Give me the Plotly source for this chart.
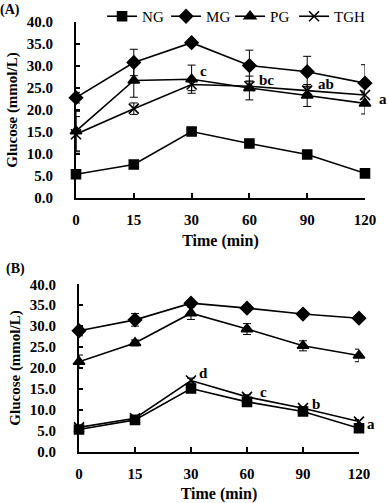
import plotly.graph_objects as go

# ---------------- data ----------------
time_labels = ["0", "15", "30", "60", "90", "120"]
groups = ["NG", "MG", "PG", "TGH"]

# Panel A
a_NG = [5.4, 7.6, 15.1, 12.4, 9.9, 5.6]
a_MG = [22.8, 30.8, 35.3, 30.1, 28.7, 26.1]
a_PG = [15.2, 26.7, 27.0, 25.0, 23.3, 21.5]
a_TGH = [14.5, 20.3, 25.8, 25.4, 24.4, 23.4]
a_NG_err = [0.4, 0.4, 0.5, 0.5, 0.4, 0.4]
a_MG_err = [1.2, 3.0, 0.7, 3.5, 3.5, 4.2]
a_PG_err = [4.5, 3.8, 3.2, 2.7, 2.5, 2.4]
a_TGH_err = [4.0, 1.3, 1.4, 1.0, 1.0, 0.9]

# Panel B
b_NG = [5.3, 7.6, 15.1, 11.9, 9.6, 5.6]
b_MG = [28.9, 31.5, 35.5, 34.3, 32.9, 31.9]
b_PG = [21.5, 26.0, 33.1, 29.3, 25.3, 23.0]
b_TGH = [5.8, 8.0, 17.0, 13.1, 10.4, 7.2]
b_NG_err = [0.4, 0.4, 0.6, 0.5, 0.4, 0.5]
b_MG_err = [1.2, 1.5, 0.5, 0.8, 0.8, 0.8]
b_PG_err = [1.6, 0.7, 1.5, 1.3, 1.2, 1.5]
b_TGH_err = [0.4, 0.4, 0.6, 0.5, 0.4, 0.5]

letters_a = ["c", "bc", "ab", "a"]
letters_b = ["d", "c", "b", "a"]

# ---------------- style ----------------
FONT = "Liberation Serif"
symbols = {"NG": "square", "MG": "diamond", "PG": "triangle-up", "TGH": "x-thin"}
sizes = {"NG": 9, "MG": 10, "PG": 10, "TGH": 10}

idx = list(range(len(time_labels)))

fig = go.Figure()


def add_series(name, y, err, xa, ya, show):
    fig.add_trace(go.Scatter(
        x=idx, y=y, name=name, mode="lines+markers",
        xaxis=xa, yaxis=ya, showlegend=show, cliponaxis=False,
        line=dict(color="black", width=1.6),
        marker=dict(symbol=symbols[name], size=sizes[name], color="black",
                    line=dict(color="black", width=1.6)),
        error_y=dict(type="data", array=err, visible=True, color="black",
                     thickness=1, width=4),
    ))


series_a = {"NG": (a_NG, a_NG_err), "MG": (a_MG, a_MG_err),
            "PG": (a_PG, a_PG_err), "TGH": (a_TGH, a_TGH_err)}
series_b = {"NG": (b_NG, b_NG_err), "MG": (b_MG, b_MG_err),
            "PG": (b_PG, b_PG_err), "TGH": (b_TGH, b_TGH_err)}

for g in groups:
    add_series(g, series_a[g][0], series_a[g][1], "x", "y", True)
for g in groups:
    add_series(g, series_b[g][0], series_b[g][1], "x2", "y2", False)

# empty spacer legend entry so the last label is not clipped
fig.add_trace(go.Scatter(x=[None], y=[None], name=" ", mode="lines",
                         line=dict(color="rgba(0,0,0,0)", width=0),
                         hoverinfo="skip", showlegend=True))

W, H = 388, 503
dom_xa = [76 / W, 365 / W]
dom_xb = [79 / W, 359 / W]

axis_common = dict(
    showline=True, linecolor="black", linewidth=2, showgrid=False,
    zeroline=False, ticks="inside", tickcolor="black", tickwidth=1.5,
    automargin=False,
    tickfont=dict(family=FONT, size=15, color="black", weight="bold"),
)

xcommon = dict(axis_common, range=[0, 5], tickvals=idx, ticktext=time_labels,
               ticklen=5, ticklabelstandoff=7,
               title=dict(text="<b>Time (min)</b>", standoff=8,
                          font=dict(family=FONT, size=16, color="black")))
ycommon = dict(axis_common, range=[0, 40], dtick=5, tickformat=".1f",
               ticklen=4, ticklabelstandoff=18,
               title=dict(text="<b>Glucose (mmol/L)</b>", standoff=6,
                          font=dict(family=FONT, size=15, color="black")))

fig.update_layout(
    width=W, height=H,
    margin=dict(l=0, r=0, t=0, b=0, autoexpand=False),
    paper_bgcolor="white", plot_bgcolor="white",
    font=dict(family=FONT, color="black"),
    xaxis=dict(xcommon, domain=dom_xa, anchor="y"),
    yaxis=dict(ycommon, domain=[(H - 198) / H, (H - 22) / H], anchor="x"),
    xaxis2=dict(xcommon, domain=dom_xb, anchor="y2"),
    yaxis2=dict(ycommon, domain=[(H - 451.7) / H, (H - 284.3) / H], anchor="x2"),
    legend=dict(orientation="h", x=0.263, y=1.0, xanchor="left", yanchor="top",
                font=dict(family=FONT, size=15, color="black"),
                itemwidth=30, entrywidth=19, entrywidthmode="pixels",
                tracegroupgap=0, bgcolor="rgba(0,0,0,0)"),
    showlegend=True,
)


def xpaper(dom, v):
    return dom[0] + (v / 5.0) * (dom[1] - dom[0])


ann_font = dict(family=FONT, size=15, color="black")
pos_a = [(2.2, 28.9), (3.29, 26.9), (4.33, 26.0), (5.31, 22.6)]
pos_b = [(2.23, 18.8), (3.29, 14.3), (4.23, 11.4), (5.21, 6.6)]
for t, (px, py) in zip(letters_a, pos_a):
    fig.add_annotation(x=xpaper(dom_xa, px), y=py, xref="paper", yref="y",
                       xanchor="center", yanchor="middle",
                       text=f"<b>{t}</b>", showarrow=False, font=ann_font)
for t, (px, py) in zip(letters_b, pos_b):
    fig.add_annotation(x=xpaper(dom_xb, px), y=py, xref="paper", yref="y2",
                       xanchor="center", yanchor="middle",
                       text=f"<b>{t}</b>", showarrow=False, font=ann_font)

fig.add_annotation(x=10 / W, y=1 - 10 / H, xref="paper", yref="paper",
                   xanchor="center", yanchor="middle",
                   text="<b>(A)</b>", showarrow=False,
                   font=dict(family=FONT, size=14, color="black"))
fig.add_annotation(x=15 / W, y=1 - 269 / H, xref="paper", yref="paper",
                   xanchor="center", yanchor="middle",
                   text="<b>(B)</b>", showarrow=False,
                   font=dict(family=FONT, size=14, color="black"))

fig.write_html("out.html",
               config={"displayModeBar": False},
               post_script="document.body.style.margin='0';"
                           "document.body.style.padding='0';")
